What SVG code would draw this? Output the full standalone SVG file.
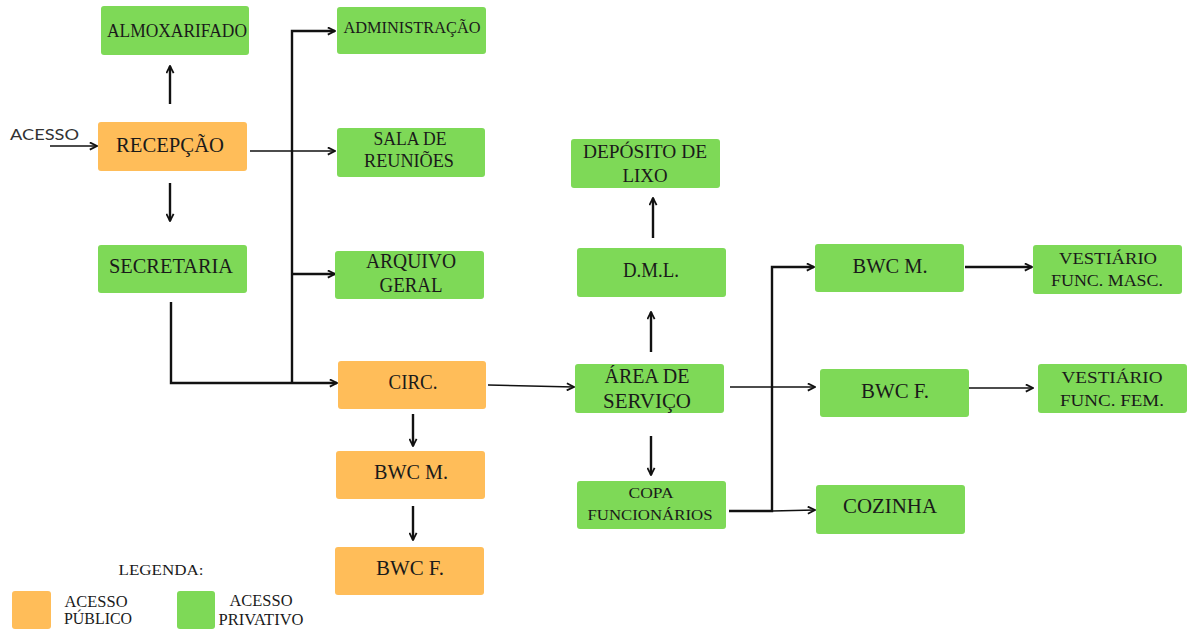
<svg xmlns="http://www.w3.org/2000/svg" width="1189" height="632" viewBox="0 0 1189 632">
<style>
.g{fill:#7ED957}
.o{fill:#FFBD59}
.t{font-family:"Liberation Serif","DejaVu Serif",serif;fill:#1a1a1a;text-anchor:middle}
.c{stroke:#111;fill:none;stroke-linejoin:miter}
.th{stroke-width:2.4}
.tn{stroke-width:1.6}
</style>
<defs>
<marker id="ah" viewBox="0 0 10 10" refX="9" refY="5" markerWidth="9" markerHeight="9" markerUnits="userSpaceOnUse" orient="auto">
<path d="M1,1 L9,5 L1,9" fill="none" stroke="#111" stroke-width="2"/>
</marker>
</defs>
<rect width="1189" height="632" fill="#fff"/>

<g id="connectors">
<path class="c tn" d="M50,146 H97" marker-end="url(#ah)"/>
<path class="c th" d="M170,104 V66" marker-end="url(#ah)"/>
<path class="c th" d="M170,183 V221" marker-end="url(#ah)"/>
<path class="c tn" d="M250,151 H335" marker-end="url(#ah)"/>
<path class="c th" d="M292,383 V31 H335" marker-end="url(#ah)"/>
<path class="c th" d="M292,274 H335" marker-end="url(#ah)"/>
<path class="c th" d="M171,302 V383 H337" marker-end="url(#ah)"/>
<path class="c tn" d="M488,385 L574,387" marker-end="url(#ah)"/>
<path class="c th" d="M413,414 V446" marker-end="url(#ah)"/>
<path class="c th" d="M413,506 V540" marker-end="url(#ah)"/>
<path class="c th" d="M651,352 V312" marker-end="url(#ah)"/>
<path class="c th" d="M653,238 V198" marker-end="url(#ah)"/>
<path class="c th" d="M651,436 V475" marker-end="url(#ah)"/>
<path class="c tn" d="M730,387 H815" marker-end="url(#ah)"/>
<path class="c th" d="M729,511 H772 V267 H814" marker-end="url(#ah)"/>
<path class="c tn" d="M772,511 L815,510" marker-end="url(#ah)"/>
<path class="c th" d="M965,267 H1032" marker-end="url(#ah)"/>
<path class="c tn" d="M966,388 H1033" marker-end="url(#ah)"/>
</g>

<g id="acesso-label"><text x="10" y="140" font-family="Lato,'Open Sans',sans-serif" font-size="16" fill="#333" textLength="69" lengthAdjust="spacingAndGlyphs">ACESSO</text></g>

<g id="almoxarifado"><rect class="g" x="101" y="6" width="148" height="49" rx="3"/><text class="t" x="177" y="37" font-size="19" textLength="140" lengthAdjust="spacingAndGlyphs">ALMOXARIFADO</text></g>
<g id="administracao"><rect class="g" x="337" y="7" width="149" height="47" rx="3"/><text class="t" x="412" y="33" font-size="17.5" textLength="137" lengthAdjust="spacingAndGlyphs">ADMINISTRAÇÃO</text></g>
<g id="recepcao"><rect class="o" x="98" y="122" width="149" height="49" rx="3"/><text class="t" x="170" y="152" font-size="22" textLength="108" lengthAdjust="spacingAndGlyphs">RECEPÇÃO</text></g>
<g id="sala-reunioes"><rect class="g" x="337" y="128" width="148" height="49" rx="3"/><text class="t" x="410" y="145" font-size="19" textLength="73" lengthAdjust="spacingAndGlyphs">SALA DE</text><text class="t" x="409" y="167" font-size="19" textLength="90" lengthAdjust="spacingAndGlyphs">REUNIÕES</text></g>
<g id="secretaria"><rect class="g" x="98" y="245" width="149" height="48" rx="3"/><text class="t" x="171" y="273" font-size="21" textLength="124" lengthAdjust="spacingAndGlyphs">SECRETARIA</text></g>
<g id="arquivo-geral"><rect class="g" x="335" y="251" width="149" height="48" rx="3"/><text class="t" x="411" y="268" font-size="21" textLength="90" lengthAdjust="spacingAndGlyphs">ARQUIVO</text><text class="t" x="411" y="292" font-size="21" textLength="63" lengthAdjust="spacingAndGlyphs">GERAL</text></g>
<g id="circ"><rect class="o" x="338" y="361" width="148" height="48" rx="3"/><text class="t" x="413" y="389" font-size="20" textLength="49" lengthAdjust="spacingAndGlyphs">CIRC.</text></g>
<g id="bwc-m-pub"><rect class="o" x="336" y="451" width="149" height="48" rx="3"/><text class="t" x="411" y="479" font-size="20" textLength="74" lengthAdjust="spacingAndGlyphs">BWC M.</text></g>
<g id="bwc-f-pub"><rect class="o" x="335" y="547" width="149" height="48" rx="3"/><text class="t" x="410" y="575" font-size="20" textLength="68" lengthAdjust="spacingAndGlyphs">BWC F.</text></g>
<g id="deposito-lixo"><rect class="g" x="571" y="139" width="149" height="49" rx="3"/><text class="t" x="645" y="158" font-size="19.5" textLength="124" lengthAdjust="spacingAndGlyphs">DEPÓSITO DE</text><text class="t" x="645" y="182" font-size="19.5" textLength="45" lengthAdjust="spacingAndGlyphs">LIXO</text></g>
<g id="dml"><rect class="g" x="577" y="248" width="149" height="49" rx="3"/><text class="t" x="651" y="277" font-size="20.5" textLength="56" lengthAdjust="spacingAndGlyphs">D.M.L.</text></g>
<g id="area-servico"><rect class="g" x="575" y="364" width="149" height="49" rx="3"/><text class="t" x="647" y="383" font-size="20" textLength="85" lengthAdjust="spacingAndGlyphs">ÁREA DE</text><text class="t" x="647" y="408" font-size="20" textLength="88" lengthAdjust="spacingAndGlyphs">SERVIÇO</text></g>
<g id="copa"><rect class="g" x="577" y="481" width="149" height="48" rx="3"/><text class="t" x="651" y="498" font-size="15" textLength="45" lengthAdjust="spacingAndGlyphs">COPA</text><text class="t" x="650" y="520" font-size="15" textLength="125" lengthAdjust="spacingAndGlyphs">FUNCIONÁRIOS</text></g>
<g id="bwc-m-priv"><rect class="g" x="815" y="244" width="149" height="48" rx="3"/><text class="t" x="890" y="273" font-size="20" textLength="75" lengthAdjust="spacingAndGlyphs">BWC M.</text></g>
<g id="bwc-f-priv"><rect class="g" x="820" y="369" width="149" height="48" rx="3"/><text class="t" x="895" y="398" font-size="20" textLength="68" lengthAdjust="spacingAndGlyphs">BWC F.</text></g>
<g id="cozinha"><rect class="g" x="816" y="485" width="149" height="49" rx="3"/><text class="t" x="890" y="513" font-size="20" textLength="94" lengthAdjust="spacingAndGlyphs">COZINHA</text></g>
<g id="vestiario-masc"><rect class="g" x="1033" y="245" width="149" height="49" rx="3"/><text class="t" x="1108" y="264" font-size="17" textLength="98" lengthAdjust="spacingAndGlyphs">VESTIÁRIO</text><text class="t" x="1107" y="286" font-size="17" textLength="112" lengthAdjust="spacingAndGlyphs">FUNC. MASC.</text></g>
<g id="vestiario-fem"><rect class="g" x="1038" y="364" width="149" height="49" rx="3"/><text class="t" x="1112" y="383" font-size="17" textLength="101" lengthAdjust="spacingAndGlyphs">VESTIÁRIO</text><text class="t" x="1112" y="406" font-size="17" textLength="104" lengthAdjust="spacingAndGlyphs">FUNC. FEM.</text></g>

<g id="legend">
<text class="t" x="161" y="575" font-size="15" textLength="85" lengthAdjust="spacingAndGlyphs">LEGENDA:</text>
<rect class="o" x="12" y="591" width="39" height="38" rx="3"/>
<text class="t" x="96" y="607" font-size="17" textLength="63" lengthAdjust="spacingAndGlyphs">ACESSO</text>
<text class="t" x="98" y="624" font-size="17" textLength="68" lengthAdjust="spacingAndGlyphs">PÚBLICO</text>
<rect class="g" x="177" y="591" width="38" height="38" rx="3"/>
<text class="t" x="261" y="606" font-size="17" textLength="63" lengthAdjust="spacingAndGlyphs">ACESSO</text>
<text class="t" x="261" y="625" font-size="17" textLength="85" lengthAdjust="spacingAndGlyphs">PRIVATIVO</text>
</g>
</svg>
